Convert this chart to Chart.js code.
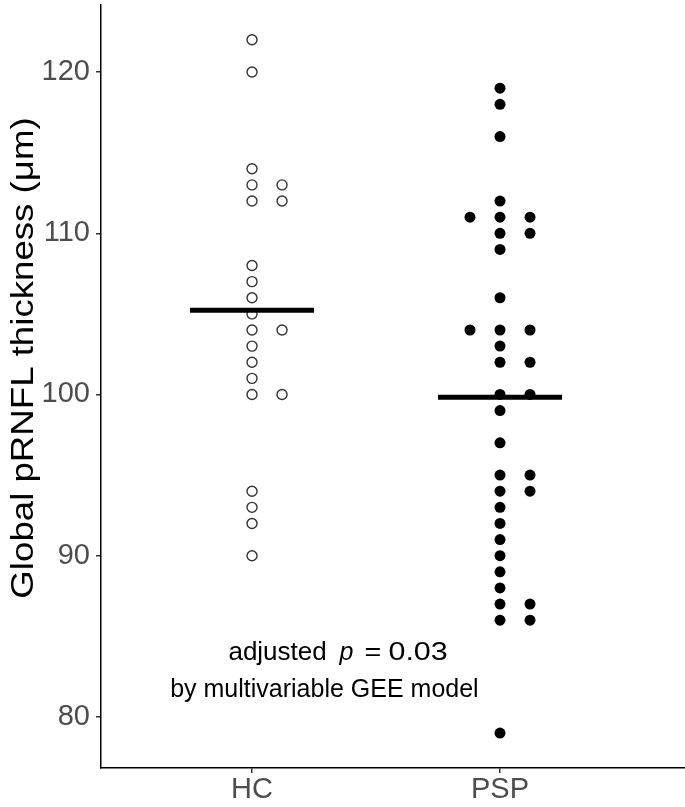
<!DOCTYPE html>
<html>
<head>
<meta charset="utf-8">
<script src="https://cdn.jsdelivr.net/npm/chart.js@4.4.1/dist/chart.umd.min.js"></script>
<style>
  html, body { margin: 0; padding: 0; background: #fff; }
  #wrap { width: 685px; height: 807px; }
</style>
</head>
<body>
<div id="wrap"><canvas id="c" width="685" height="807"></canvas></div>
<script>
// ---- data ----
const categories = ['HC', 'PSP'];
const hcValues = [122, 120, 114, 113, 113, 112, 112, 108, 107, 106, 105, 104, 104, 103, 102, 101, 100, 100, 94, 93, 92, 90];
const pspValues = [119, 118, 116, 112, 111, 111, 111, 110, 110, 109, 106, 104, 104, 104, 103, 102, 102, 100, 100, 99, 97, 95, 95, 94, 94, 93, 92, 91, 90, 89, 88, 87, 87, 86, 86, 79];
const yTickValues = [80, 90, 100, 110, 120];
const yTitle = 'Global pRNFL thickness (\u03BCm)';
const annotationLine1 = ['adjusted', 'p', '=', '0.03'];
const annotationLine2 = 'by multivariable GEE model';

// ---- layout helpers ----
const FONT = "'Liberation Sans', Arial, Helvetica, sans-serif";
const dodgeStep = 0.121;      // horizontal dot spacing in category units
const meanHalfWidth = 0.25;

function dotPoints(values, center) {
  const seen = {};
  const order = [0, 1, -1, 2, -2];
  return values.map(v => {
    const k = seen[v] || 0;
    seen[v] = k + 1;
    return { x: center + order[k] * dodgeStep, y: v };
  });
}
function mean(arr) { return arr.reduce((a, b) => a + b, 0) / arr.length; }
function meanLine(values, center) {
  const m = mean(values);
  return [{ x: center - meanHalfWidth, y: m }, { x: center + meanHalfWidth, y: m }];
}

const textPlugin = {
  id: 'texts',
  afterDraw(chart) {
    const { ctx, scales } = chart;
    // annotation anchored in data space
    const cx = scales.x.getPixelForValue(1.3);
    const cy = scales.y.getPixelForValue(83);
    ctx.save();
    ctx.fillStyle = '#000';
    ctx.textBaseline = 'alphabetic';
    ctx.textAlign = 'left';
    const size = 25;
    const normal = size + 'px ' + FONT;
    const italic = 'italic ' + size + 'px ' + FONT;
    const y1 = cy - 9;
    const pieces = [
      { t: annotationLine1[0], f: normal, dx: -98, sx: 1.04 },
      { t: annotationLine1[1], f: italic, dx: 13, sx: 1 },
      { t: annotationLine1[2], f: normal, dx: 38, sx: 1.15 },
      { t: annotationLine1[3], f: normal, dx: 62, sx: 1.22 }
    ];
    pieces.forEach(p => {
      ctx.save();
      ctx.font = p.f;
      ctx.translate(cx + p.dx, y1);
      ctx.scale(p.sx, 1);
      ctx.fillText(p.t, 0, 0);
      ctx.restore();
    });
    ctx.font = normal;
    ctx.textAlign = 'center';
    ctx.fillText(annotationLine2, cx - 2, cy + 28);
    ctx.restore();

    // y-axis title
    ctx.save();
    ctx.fillStyle = '#000';
    ctx.font = '32px ' + FONT;
    ctx.textAlign = 'center';
    ctx.textBaseline = 'middle';
    ctx.translate(24, 358);
    ctx.rotate(-Math.PI / 2);
    ctx.scale(1.145, 1);
    ctx.fillText(yTitle, 0, 0);
    ctx.restore();
  }
};

new Chart(document.getElementById('c'), {
  type: 'scatter',
  data: {
    datasets: [
      {
        label: 'HC mean', type: 'line', data: meanLine(hcValues, 1),
        borderColor: '#000', borderWidth: 5, pointRadius: 0, borderCapStyle: 'butt', order: 0
      },
      {
        label: 'PSP mean', type: 'line', data: meanLine(pspValues, 2),
        borderColor: '#000', borderWidth: 5, pointRadius: 0, borderCapStyle: 'butt', order: 0
      },
      {
        label: categories[0], data: dotPoints(hcValues, 1),
        pointRadius: 5, pointBorderWidth: 1.4, borderColor: '#333', backgroundColor: 'rgba(255,255,255,0)', order: 1
      },
      {
        label: categories[1], data: dotPoints(pspValues, 2),
        pointRadius: 5.5, pointBorderWidth: 0, borderColor: '#000', backgroundColor: '#000', order: 1
      }
    ]
  },
  options: {
    responsive: false,
    animation: false,
    devicePixelRatio: 1,
    layout: { autoPadding: false, padding: { top: 5, right: 0, bottom: 0, left: 0 } },
    plugins: { legend: { display: false }, tooltip: { enabled: false } },
    scales: {
      x: {
        type: 'linear', min: 0.391, max: 2.746,
        afterBuildTicks: s => { s.ticks = [1, 2].map(v => ({ value: v })); },
        afterFit: s => { s.height = 39; s.paddingLeft = 0; s.paddingRight = 0; },
        border: { display: true, color: '#000', width: 1.5 },
        grid: { display: true, drawOnChartArea: false, drawTicks: true, tickLength: 5, color: '#333', lineWidth: 1.5 },
        ticks: {
          callback: v => categories[v - 1],
          font: { family: FONT, size: 29 }, color: '#4d4d4d', padding: 0, maxRotation: 0
        }
      },
      y: {
        type: 'linear', min: 76.83, max: 124.16,
        afterBuildTicks: s => { s.ticks = yTickValues.map(v => ({ value: v })); },
        afterFit: s => { s.width = 101; s.paddingTop = 0; s.paddingBottom = 0; },
        border: { display: true, color: '#000', width: 1.5 },
        grid: { display: true, drawOnChartArea: false, drawTicks: true, tickLength: 5, color: '#333', lineWidth: 1.5 },
        ticks: { font: { family: FONT, size: 29 }, color: '#4d4d4d', padding: 6 },
        title: { display: false, text: yTitle }
      }
    }
  },
  plugins: [textPlugin]
});
</script>
</body>
</html>
